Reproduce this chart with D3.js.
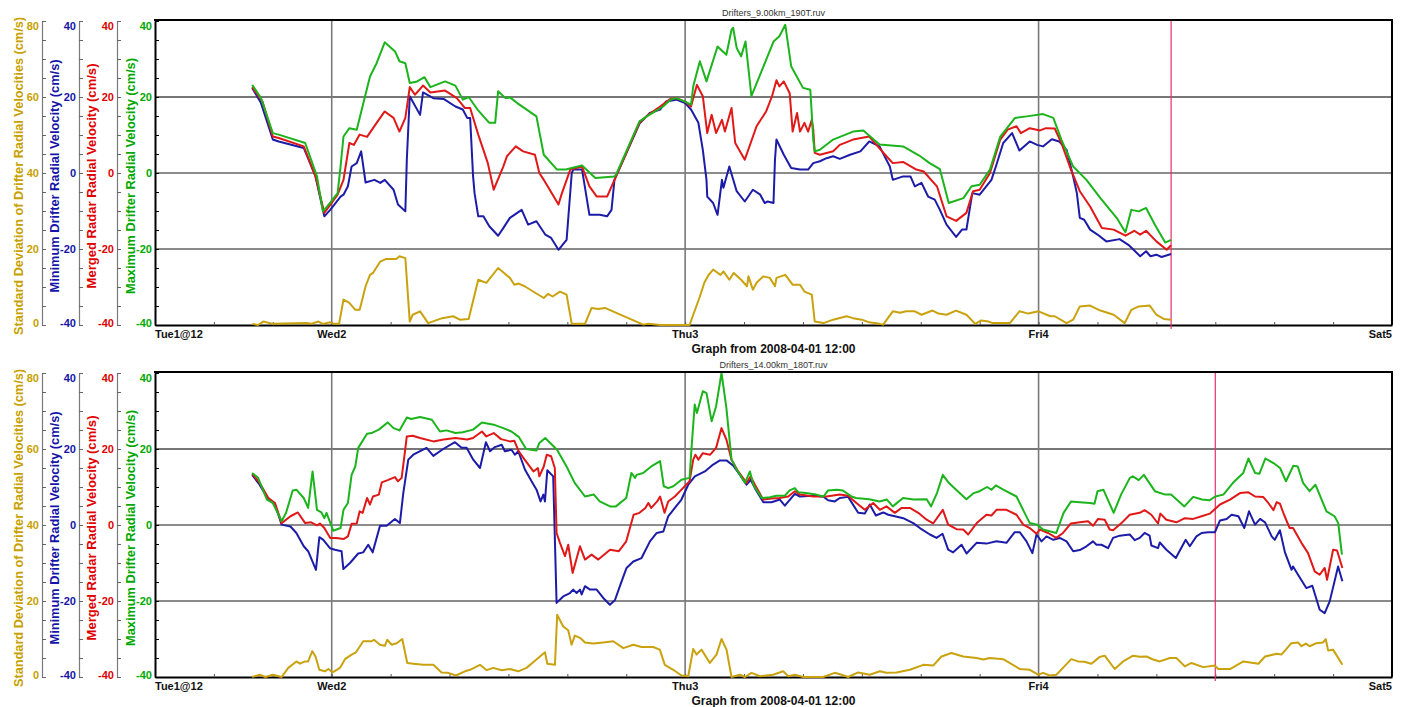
<!DOCTYPE html>
<html>
  <head>
    <meta charset="utf-8">
    <title>Drifter and Radar Radial Velocities</title>
    <script src="https://d3js.org/d3.v7.min.js"></script>
    <style>
      body { margin: 0; background: #fff; }
      svg text { font-family: "Liberation Sans", Arial, Helvetica, sans-serif; }
    </style>
  </head>
  <body>
    <div id="chart"></div>
    <script>
      // all series: [hours after 2008-04-01 12:00, value]
      // top panel: Drifters_9.00km_190T.ruv
      var top_max = [[6.6,23.2],[7.2,19.7],[8.0,10.5],[8.4,10.1],[10.2,7.9],[11.0,-0.9],[11.4,-10.1],[11.7,-8.8],[12.4,-5.3],[12.6,1.7],[12.8,9.6],[13.2,11.8],[13.7,11.4],[14.6,25.4],[15.05,28.9],[15.6,34.4],[16.3,32.0],[16.6,29.4],[17.0,28.9],[17.3,23.7],[17.8,24.1],[18.3,25.2],[18.7,22.6],[19.7,24.1],[20.4,23.0],[20.9,19.3],[21.3,20.0],[21.9,16.7],[22.7,13.2],[23.1,13.2],[23.3,21.5],[23.8,19.7],[24.1,19.9],[24.6,18.4],[25.9,14.9],[26.4,4.8],[27.3,0.9],[27.9,0.9],[28.3,1.3],[29.0,2.0],[29.9,-1.3],[31.2,-0.9],[31.3,-0.5],[32.9,13.6],[33.4,14.9],[34.5,17.5],[35.0,19.3],[35.4,19.7],[36.0,18.8],[36.4,18.0],[36.55,22.8],[37.0,29.4],[37.45,24.1],[38.2,33.3],[38.8,31.1],[39.15,37.7],[39.26,38.2],[39.5,32.9],[39.8,30.7],[40.1,34.6],[40.5,20.2],[41.5,29.8],[42.0,34.6],[42.4,36.0],[42.8,39.0],[43.2,28.1],[44.0,22.4],[44.5,21.9],[44.7,8.8],[44.8,5.7],[45.15,6.1],[46.05,8.8],[47.4,10.9],[48.1,11.2],[49.2,7.5],[50.8,7.0],[51.9,4.6],[52.6,2.6],[53.3,1.0],[53.9,-7.9],[54.9,-6.6],[55.45,-3.5],[56.0,-3.1],[56.7,0.9],[57.4,9.6],[58.4,14.5],[59.2,14.9],[60.3,15.5],[61.0,14.5],[61.55,8.8],[62.35,1.7],[63.25,-1.8],[64.2,-6.6],[65.3,-11.8],[65.9,-15.6],[66.3,-9.7],[66.8,-10.1],[67.3,-9.2],[67.9,-13.6],[68.6,-18.3],[69.0,-17.6]];
      var top_merged = [[6.6,22.6],[7.3,18.8],[8.0,9.6],[8.4,9.2],[10.1,7.0],[10.9,-0.9],[11.5,-10.5],[12.4,-5.7],[12.8,-1.8],[13.2,7.9],[13.5,7.4],[13.9,10.1],[14.4,9.5],[15.05,13.2],[15.6,16.2],[16.2,14.5],[16.6,10.9],[17.0,14.5],[17.3,22.6],[17.65,20.6],[18.2,23.0],[18.7,21.2],[19.7,21.7],[20.5,19.7],[21.05,17.1],[21.4,17.1],[21.95,10.1],[22.3,6.1],[22.6,2.6],[23.0,-4.4],[23.65,1.7],[23.9,4.4],[24.5,7.0],[25.0,5.7],[25.8,4.8],[26.1,0],[26.4,-1.8],[27.4,-8.3],[27.6,-5.7],[28.2,0.9],[29.0,1.7],[29.5,-3.5],[30.0,-6.2],[30.7,-6.2],[31.2,-1.8],[32.9,13.2],[33.5,15.3],[34.3,17.5],[35.0,19.5],[35.4,19.7],[36.0,18.8],[36.4,17.5],[36.8,23.2],[37.2,20.2],[37.5,10.5],[37.8,15.3],[38.1,10.5],[38.5,14.0],[38.7,10.9],[39.15,17.1],[39.4,7.9],[40.05,3.5],[40.85,12.3],[41.5,16.2],[41.9,20.2],[42.2,24.4],[42.4,22.8],[42.7,24.1],[43.1,21.0],[43.3,10.9],[43.6,15.8],[43.8,10.9],[44.1,13.2],[44.35,10.9],[44.6,14.0],[44.7,11.4],[44.8,5.3],[45.15,4.8],[46.05,5.7],[46.5,7.4],[47.4,8.8],[48.5,9.6],[49.2,6.5],[49.67,4.4],[50.1,2.6],[50.8,2.9],[51.7,0.9],[52.2,0.4],[53.1,-3.5],[53.75,-11.4],[54.4,-12.6],[55.1,-10.5],[55.55,-4.8],[56.0,-4.4],[56.7,0],[57.4,8.8],[57.9,11.4],[58.5,12.3],[58.8,10.5],[59.4,11.8],[60.1,11.2],[60.5,11.8],[61.1,11.7],[61.55,7.9],[62.2,0.9],[62.8,-4.8],[63.5,-8.8],[64.3,-14.5],[65.1,-14.9],[65.9,-16.5],[66.5,-15.2],[66.9,-16.2],[67.3,-15.2],[68.0,-18.0],[68.7,-20.2],[69.0,-19.0]];
      var top_min = [[6.6,22.4],[7.2,18.4],[8.0,8.8],[8.4,8.3],[10.1,6.6],[10.9,-0.9],[11.5,-11.4],[11.9,-9.7],[12.6,-6.2],[12.8,-5.7],[13.1,-3.5],[13.35,1.7],[13.7,2.6],[14.0,5.7],[14.3,-2.5],[14.9,-1.8],[15.3,-2.6],[15.6,-1.8],[16.2,-4.4],[16.5,-8.3],[17.0,-10.1],[17.1,3.5],[17.3,20.2],[18.0,15.3],[18.2,21.2],[18.9,19.7],[19.6,19.5],[20.4,17.5],[20.9,16.7],[21.2,14.5],[21.4,14.5],[21.6,-0.9],[21.7,-5.3],[21.95,-11.4],[22.3,-11.4],[22.7,-14.0],[23.3,-16.5],[23.65,-14.5],[24.1,-11.8],[24.9,-9.7],[25.34,-13.6],[25.9,-12.7],[26.5,-16.2],[26.9,-17.1],[27.4,-20.2],[27.95,-17.6],[28.3,0],[28.4,0.9],[29.0,0.9],[29.5,-11.0],[30.2,-11.0],[30.7,-11.4],[31.0,-9.7],[31.2,-1.8],[32.9,13.0],[33.6,15.8],[34.3,16.7],[34.7,18.8],[35.4,19.3],[36.0,18.4],[36.4,16.7],[36.9,13.2],[37.2,6.1],[37.45,-1.8],[37.5,-6.2],[37.9,-7.9],[38.2,-11.0],[38.5,-1.8],[38.6,-3.9],[39.0,1.7],[39.5,-4.8],[40.05,-7.5],[40.6,-4.4],[41.1,-5.7],[41.4,-7.9],[41.6,-7.5],[42.0,-7.9],[42.1,3.5],[42.2,8.8],[42.7,4.8],[43.2,1.3],[43.8,0.9],[44.35,0.9],[44.7,2.6],[45.15,3.1],[45.6,3.9],[46.05,4.4],[46.5,3.7],[47.2,4.8],[47.9,5.7],[48.5,8.3],[49.2,7.0],[49.9,1.7],[50.1,-1.8],[50.8,-0.9],[51.3,-0.9],[51.6,-3.5],[52.05,-2.6],[52.5,-6.2],[52.95,-7.0],[53.3,-9.7],[53.75,-13.6],[54.4,-16.8],[54.8,-14.9],[55.1,-14.9],[55.5,-5.3],[56.0,-5.7],[56.8,-1.8],[57.1,1.7],[57.6,7.9],[58.2,10.5],[58.7,5.9],[59.4,8.3],[59.9,7.4],[60.3,7.0],[60.9,8.9],[61.4,8.3],[61.9,6.1],[62.35,-0.9],[62.6,-5.3],[62.8,-11.8],[63.1,-12.3],[63.5,-14.9],[64.0,-16.2],[64.6,-18.0],[65.5,-17.4],[66.1,-18.9],[66.9,-21.9],[67.3,-20.6],[67.6,-21.9],[68.0,-21.5],[68.35,-22.1],[69.0,-21.3]];
      var top_std = [[6.6,0.3],[7.0,0],[7.35,0.9],[8.0,0.3],[10.3,0.5],[10.6,0.3],[11.1,0.9],[11.4,0.3],[11.9,0.7],[12.1,0.3],[12.5,0.3],[12.8,6.7],[13.2,5.8],[13.6,4.0],[13.9,4.0],[14.3,10.2],[14.6,13.2],[14.8,13.7],[15.3,16.7],[15.7,17.4],[16.4,17.4],[16.6,18.1],[17.0,17.6],[17.3,0.9],[17.5,2.7],[18.0,3.6],[18.55,0.5],[19.5,1.8],[20.25,2.3],[20.7,1.4],[21.3,1.6],[21.95,11.9],[22.5,11.1],[23.3,15.0],[24.1,12.4],[24.4,10.6],[24.7,10.9],[25.1,10.2],[26.4,7.1],[26.7,8.2],[27.0,7.5],[27.5,8.8],[27.95,8.0],[28.3,0.3],[29.2,0.3],[29.65,4.5],[30.1,4.2],[30.55,4.5],[33.15,0.1],[33.5,0.3],[34.3,0],[36.3,0],[37.0,7.5],[37.3,11.1],[37.6,13.2],[37.9,14.6],[38.4,13.2],[38.6,14.1],[39.0,11.9],[39.3,13.7],[39.8,11.9],[40.2,10.2],[40.3,12.8],[40.6,9.3],[40.85,11.1],[41.3,12.8],[41.75,12.4],[42.1,10.2],[42.2,12.4],[42.8,13.2],[43.3,10.6],[43.8,10.6],[44.1,8.8],[44.6,8.0],[44.8,0.9],[45.4,0.5],[46.05,1.4],[46.96,2.3],[47.4,1.8],[48.0,1.4],[48.5,0.7],[49.2,0.3],[49.45,0.1],[50.1,3.6],[50.6,3.2],[51.0,3.6],[51.6,3.6],[52.05,2.7],[52.8,3.8],[53.2,3.0],[53.75,2.7],[54.4,3.8],[55.1,2.7],[55.7,0.3],[56.1,1.2],[56.6,0.9],[56.9,0.5],[58.05,0.5],[58.7,3.6],[59.3,3.0],[60.0,3.6],[60.8,2.3],[61.1,2.3],[61.9,0.5],[62.35,1.4],[62.8,4.9],[63.5,5.1],[64.2,3.8],[65.1,2.7],[65.85,0.5],[66.3,4.0],[66.8,4.9],[67.55,5.1],[68.0,2.7],[68.5,1.6],[69.0,1.4]];

      // bottom panel: Drifters_14.00km_180T.ruv
      var bot_max = [[6.6,13.7],[7.0,12.4],[7.6,6.7],[8.0,5.8],[8.6,1.0],[8.9,3.2],[9.35,9.1],[9.6,9.3],[10.1,7.1],[10.4,4.5],[10.7,14.1],[11.0,4.0],[11.3,3.3],[11.5,1.8],[11.65,3.2],[12.1,-1.5],[12.6,-0.8],[12.8,4.0],[13.1,5.8],[13.35,13.2],[13.6,15.4],[13.8,20.3],[14.4,24.0],[14.7,24.2],[15.2,25.1],[15.8,27.0],[16.2,25.5],[16.6,24.9],[17.1,28.3],[17.4,27.9],[18.0,28.4],[18.8,27.7],[19.35,24.6],[19.8,24.9],[20.4,24.2],[20.9,24.4],[21.6,25.1],[22.2,27.0],[23.0,26.4],[23.65,25.5],[24.2,24.6],[24.7,23.2],[25.2,20.0],[25.9,19.6],[26.1,21.6],[26.5,22.9],[27.3,19.8],[27.95,15.4],[28.5,11.1],[29.2,7.5],[29.8,8.0],[30.2,6.2],[30.9,4.9],[31.3,4.9],[32.0,7.1],[32.35,13.7],[32.6,12.4],[32.7,13.2],[33.15,13.7],[33.7,15.4],[34.3,16.8],[34.55,10.2],[34.85,9.7],[35.2,10.2],[35.75,11.9],[36.3,12.4],[36.45,21.1],[36.65,31.7],[36.8,29.5],[37.2,35.2],[37.45,34.7],[37.8,27.3],[38.1,31.2],[38.47,40.0],[38.8,30.8],[39.15,17.2],[39.5,14.6],[40.06,11.1],[40.4,14.1],[40.63,10.6],[41.2,7.1],[41.76,7.3],[42.2,7.7],[42.77,7.7],[43.1,9.1],[43.45,9.7],[43.7,8.6],[44.2,8.4],[44.9,8.0],[45.4,7.5],[45.7,9.1],[46.3,9.3],[46.7,9.1],[47.3,7.5],[47.6,7.1],[48.5,6.8],[49.2,6.2],[49.7,6.7],[50.1,4.9],[50.8,7.1],[51.5,6.7],[52.4,6.8],[52.7,4.9],[53.1,8.4],[53.5,13.2],[53.9,11.1],[54.4,9.3],[55.1,6.8],[55.6,8.4],[56.0,8.9],[56.5,10.0],[56.8,9.3],[57.1,10.4],[57.6,9.3],[58.5,7.5],[59.0,3.6],[59.4,0.5],[59.9,0.1],[60.3,-1.2],[61.2,-2.1],[61.7,3.2],[62.2,6.2],[62.8,6.0],[63.5,5.8],[63.8,5.6],[64.0,8.9],[64.4,9.3],[65.1,3.2],[65.6,8.0],[66.2,12.4],[66.4,12.8],[66.8,11.8],[67.15,13.2],[67.9,8.9],[68.6,8.0],[69.0,8.0],[69.9,4.9],[70.5,7.4],[71.1,6.7],[71.6,6.5],[72.0,7.5],[72.55,8.0],[73.2,11.1],[73.9,13.7],[74.25,17.5],[74.7,13.7],[75.0,13.5],[75.4,17.5],[75.95,16.3],[76.4,15.0],[76.8,11.5],[77.3,15.6],[77.6,15.4],[77.96,11.1],[78.4,8.9],[78.8,10.6],[79.55,3.6],[80.1,2.3],[80.35,0.5],[80.6,-7.8]];
      var bot_merged = [[6.6,13.5],[7.1,11.1],[7.7,7.1],[8.15,5.8],[8.6,0.5],[9.2,2.3],[9.7,3.3],[10.2,0.5],[10.6,0.7],[11.0,-0.1],[11.2,0.4],[11.5,-0.8],[11.9,-3.4],[12.3,-3.4],[12.8,-3.7],[13.1,-3.0],[13.35,0.3],[13.7,0.4],[13.9,3.6],[14.1,3.2],[14.4,7.1],[14.6,5.4],[14.8,7.5],[15.2,8.0],[15.4,11.2],[15.8,11.8],[16.3,12.6],[16.5,11.5],[16.75,12.4],[17.1,23.3],[17.5,23.5],[18.0,22.9],[18.9,22.0],[19.6,22.5],[20.4,22.9],[21.2,22.5],[21.6,22.9],[22.2,24.6],[22.5,23.3],[23.0,24.2],[23.5,22.6],[24.1,22.0],[24.4,22.2],[24.7,19.4],[25.1,17.2],[25.7,14.1],[26.0,15.0],[26.1,12.8],[26.4,15.4],[26.6,18.5],[26.9,18.1],[27.15,15.0],[27.27,-2.1],[27.5,-4.7],[27.84,-8.2],[28.06,-5.2],[28.36,-12.6],[28.86,-5.6],[29.2,-9.1],[29.65,-7.8],[30.1,-9.1],[30.9,-6.5],[31.5,-6.9],[32.0,-4.3],[32.5,2.7],[32.9,3.2],[33.3,4.5],[33.5,5.8],[33.7,4.5],[34.1,6.2],[34.3,7.5],[34.6,3.2],[34.85,6.2],[35.3,7.5],[35.75,9.3],[36.3,11.5],[36.55,17.2],[36.7,18.5],[36.9,17.2],[37.2,18.9],[37.7,18.5],[38.1,20.3],[38.47,25.5],[38.8,22.5],[39.15,17.2],[39.6,14.1],[40.17,11.1],[40.45,12.8],[40.74,10.6],[41.3,6.7],[41.87,7.0],[42.4,7.1],[43.0,7.5],[43.45,8.9],[43.8,8.0],[44.7,7.5],[45.6,7.5],[46.5,8.0],[47.07,7.7],[47.63,5.8],[48.2,4.0],[48.77,5.8],[49.22,4.0],[49.67,4.9],[50.24,3.2],[50.7,4.5],[51.26,4.5],[51.83,3.2],[52.4,1.4],[52.84,0.4],[53.5,4.0],[53.86,0.1],[54.43,-1.1],[54.88,-1.2],[55.22,-2.5],[55.8,0.5],[56.46,2.7],[56.8,2.5],[57.14,4.0],[57.82,4.0],[58.5,2.7],[58.96,0.1],[59.4,-0.8],[59.86,-2.3],[60.08,-1.2],[60.65,-2.1],[61.2,-3.4],[61.66,-2.1],[62.2,0.4],[62.8,0.7],[63.36,1.0],[63.7,-0.2],[64.04,1.6],[64.49,1.4],[64.83,-1.2],[65.06,-1.4],[65.63,0.5],[66.19,2.7],[66.87,3.2],[67.2,3.9],[67.66,2.7],[68.11,0.4],[68.27,3.0],[68.68,1.4],[69.36,0.7],[69.93,1.8],[70.5,1.6],[71.07,2.3],[71.64,3.0],[72.32,5.4],[73.0,6.7],[73.68,8.4],[74.25,8.6],[74.7,7.5],[75.25,7.4],[75.6,5.8],[75.95,3.9],[76.17,6.0],[76.39,5.6],[76.67,2.7],[77.05,-0.8],[77.28,-0.8],[77.85,-4.7],[78.3,-7.4],[78.75,-12.2],[79.09,-13.1],[79.43,-11.3],[79.59,-14.4],[80.0,-6.5],[80.27,-6.7],[80.63,-11.3]];
      var bot_min = [[6.6,13.2],[7.1,10.6],[7.7,6.7],[8.15,5.4],[8.6,0.1],[9.2,-0.4],[9.6,-2.1],[10.1,-5.6],[10.4,-6.9],[10.93,-11.8],[11.16,-3.2],[11.43,-3.9],[11.88,-6.1],[12.22,-6.5],[12.67,-6.9],[12.79,-11.6],[13.24,-10.0],[13.8,-7.5],[14.14,-7.2],[14.48,-5.2],[14.78,-7.2],[15.28,-0.2],[15.73,-0.2],[16.29,1.6],[16.63,0.5],[16.86,8.4],[17.2,17.2],[17.54,18.5],[18.44,20.3],[18.9,18.2],[19.57,20.0],[20.37,21.8],[20.82,20.3],[21.16,20.3],[21.61,17.2],[22.07,15.0],[22.47,21.8],[22.75,19.4],[23.08,20.5],[23.54,21.1],[23.76,19.4],[24.21,19.8],[24.44,18.5],[24.67,19.4],[25.12,14.6],[25.57,11.5],[25.91,9.3],[26.18,6.2],[26.37,8.0],[26.48,6.2],[26.64,14.4],[27.04,12.8],[27.27,-20.5],[27.72,-18.8],[28.18,-17.9],[28.4,-17.0],[28.63,-17.9],[28.86,-17.0],[28.97,-18.3],[29.2,-16.1],[29.54,-17.0],[29.99,-17.0],[30.44,-19.2],[30.89,-21.0],[31.23,-19.8],[31.57,-16.1],[32.02,-11.3],[32.48,-9.6],[33.04,-8.7],[33.61,-4.3],[34.07,-2.1],[34.52,-1.7],[34.85,2.3],[35.3,4.5],[35.75,6.7],[36.21,10.6],[36.66,12.8],[37.34,14.1],[37.9,15.9],[38.36,17.0],[38.81,17.0],[39.27,15.6],[39.72,13.2],[40.17,10.6],[40.45,11.9],[40.74,9.7],[41.31,6.0],[41.87,6.0],[42.43,6.7],[42.77,5.1],[43.45,8.2],[43.79,7.5],[44.7,7.7],[45.37,7.5],[45.71,6.5],[46.16,6.2],[46.5,7.1],[47.07,7.4],[47.75,3.2],[48.2,3.0],[48.54,5.4],[48.95,2.5],[49.45,3.3],[49.79,2.7],[50.24,2.3],[50.81,1.8],[51.49,0.5],[51.94,-0.8],[52.62,-2.5],[53.07,-3.4],[53.48,-2.3],[53.86,-6.5],[54.2,-7.2],[54.77,-5.2],[55.11,-7.5],[55.79,-4.7],[56.46,-4.9],[57.14,-4.3],[57.82,-4.7],[58.38,-1.9],[58.72,-1.9],[59.18,-4.3],[59.58,-7.4],[59.86,-2.5],[60.2,-4.3],[60.54,-3.0],[61.0,-3.9],[61.44,-3.4],[61.9,-4.3],[62.35,-6.9],[62.8,-6.6],[63.25,-5.6],[63.7,-4.3],[63.93,-5.2],[64.27,-5.2],[64.72,-6.1],[65.06,-3.4],[65.51,-2.8],[66.19,-2.5],[66.53,-4.0],[66.87,-3.4],[67.2,-2.1],[67.54,-2.8],[67.66,-5.4],[68.11,-6.1],[68.23,-4.6],[68.68,-6.5],[69.32,-8.7],[69.99,-3.9],[70.27,-5.6],[70.72,-3.0],[71.07,-2.1],[71.52,-1.9],[71.98,-1.9],[72.32,1.2],[72.77,1.6],[73.11,2.7],[73.57,2.3],[73.97,-0.8],[74.29,3.6],[74.7,0.1],[75.04,1.6],[75.38,0.7],[75.83,-3.0],[76.04,-3.9],[76.39,-1.4],[76.73,-7.2],[77.18,-11.8],[77.28,-10.9],[77.62,-13.1],[78.18,-16.6],[78.59,-16.0],[79.09,-22.3],[79.43,-23.2],[79.77,-20.1],[80.34,-10.9],[80.63,-14.8]];
      var bot_std = [[6.6,0],[7.1,0.6],[7.5,0],[8.0,0.6],[8.6,0],[9.05,2.4],[9.6,4.1],[9.84,3.5],[10.2,4.1],[10.4,4.1],[10.68,6.8],[10.9,5.4],[11.16,1.9],[11.54,1.5],[11.77,2.1],[12.06,1.2],[12.56,2.4],[12.9,4.7],[13.35,5.9],[13.65,6.5],[14.14,9.4],[14.71,9.4],[14.87,9.8],[15.28,8.5],[15.61,8.2],[15.77,9.8],[16.07,8.5],[16.41,8.9],[16.79,10.0],[17.13,3.7],[17.54,3.5],[18.22,3.2],[18.9,3.2],[19.46,1.2],[19.91,1.1],[20.43,0.4],[21.05,1.5],[21.39,1.9],[22.07,3.2],[22.52,1.8],[22.97,2.4],[23.54,1.8],[24.1,2.1],[24.67,1.5],[25.23,2.4],[25.68,3.9],[26.14,5.4],[26.48,6.5],[26.64,3.5],[27.16,3.2],[27.31,16.4],[27.72,13.3],[28.06,12.3],[28.29,8.5],[28.51,10.9],[28.86,10.3],[29.2,9.1],[29.76,8.8],[30.44,9.1],[31.12,9.4],[31.8,7.6],[32.48,8.5],[33.04,7.9],[33.83,7.9],[34.28,7.2],[34.62,3.2],[35.19,1.9],[35.75,0.4],[36.21,0.2],[36.55,7.4],[36.77,5.9],[37.11,7.2],[37.68,3.7],[38.13,5.9],[38.47,10.0],[38.81,7.2],[39.15,0],[39.72,0.6],[40.06,0],[40.51,1.1],[41.08,0.2],[41.97,0.6],[42.66,1.5],[43.0,0.2],[43.45,0.6],[44.02,0],[45.37,0],[46.16,1.1],[46.62,0.6],[47.07,0],[47.75,1.2],[48.54,0.6],[49.22,1.5],[49.67,1.1],[50.35,1.2],[51.26,1.9],[52.17,3.2],[52.84,3.0],[53.41,5.4],[54.08,6.3],[54.88,5.4],[55.79,5.0],[56.24,4.6],[56.69,5.0],[57.6,4.7],[58.73,2.1],[59.41,1.9],[59.97,0.6],[60.31,1.1],[60.76,0.4],[61.21,0.6],[61.66,2.4],[62.22,4.7],[62.68,4.1],[63.1,4.0],[63.59,3.5],[64.16,5.3],[64.49,5.6],[65.17,2.1],[65.74,4.1],[66.42,5.6],[66.87,5.3],[67.33,5.4],[67.78,4.6],[68.23,4.1],[68.91,5.0],[69.36,5.0],[69.93,2.8],[70.38,3.7],[71.18,2.6],[71.98,3.0],[72.2,2.1],[73.0,2.1],[73.91,4.1],[74.93,3.5],[75.38,5.4],[76.17,6.1],[76.49,5.9],[77.17,8.9],[77.62,9.1],[77.85,8.1],[78.15,8.8],[78.41,8.1],[78.86,8.9],[79.32,9.1],[79.5,10.0],[79.66,7.0],[80.0,7.2],[80.63,3.2]];

      var panelTitles = ["Drifters_9.00km_190T.ruv", "Drifters_14.00km_180T.ruv"];
      var markerHours = [69.0, 72.0];   // red "now" line in each panel
      var dayLabels = ["Tue1@12", "Wed2", "Thu3", "Fri4", "Sat5"];
      var gridValues = [20, 0, -20];
      var xTitle = "Graph from 2008-04-01 12:00";

      var panels = [
        {title: panelTitles[0], marker: markerHours[0], std: top_std, min: top_min, merged: top_merged, max: top_max},
        {title: panelTitles[1], marker: markerHours[1], std: bot_std, min: bot_min, merged: bot_merged, max: bot_max}
      ];

      // the four y axes, left to right
      var axes = [
        {key: "std", label: "Standard Deviation of Drifter Radial Velocities (cm/s)", color: "#c8a000", line: "#c9a20e", ax: 42, tx: 19, len: 318, domain: [0, 80]},
        {key: "min", label: "Minimum Drifter Radial Velocity (cm/s)", color: "#1414a8", line: "#1c1ca8", ax: 79, tx: 55, len: 233, domain: [-40, 40]},
        {key: "merged", label: "Merged Radar Radial Velocity (cm/s)", color: "#e00000", line: "#e01818", ax: 117, tx: 92, len: 225, domain: [-40, 40]},
        {key: "max", label: "Maximum Drifter Radial Velocity (cm/s)", color: "#00a800", line: "#1cb41c", ax: 155, tx: 131, len: 236, domain: [-40, 40]}
      ];

      var W = 1413, H = 707, xl = 155, xr = 1392;
      var start = new Date(2008, 3, 1, 12), end = new Date(2008, 3, 5, 0);
      function t(h) { return new Date(start.getTime() + h * 3600000); }

      var svg = d3.select("#chart").append("svg")
        .attr("width", W)
        .attr("height", H);

      var x = d3.scaleTime().domain([start, end]).range([xl, xr]);
      var days = [start].concat(d3.timeDay.range(d3.timeDay.ceil(start), d3.timeDay.offset(end, 1)));

      panels.forEach(function(p, i) {
        var top = 21 + i * 352, bot = top + 304;
        var g = svg.append("g");
        var yV = d3.scaleLinear().domain([-40, 40]).range([bot, top]);
        var yS = d3.scaleLinear().domain([0, 80]).range([bot, top]);

        // horizontal grid
        g.selectAll(".hgrid").data(gridValues).join("line")
          .attr("x1", xl).attr("x2", xr)
          .attr("y1", function(d) { return yV(d); })
          .attr("y2", function(d) { return yV(d); })
          .attr("stroke", function(d) { return d < 0 ? "#8a8a8a" : d > 0 ? "#4a4a4a" : "#1a1a1a"; })
          .attr("stroke-width", function(d) { return d < 0 ? 2 : d > 0 ? 1.5 : 1; });

        // day lines
        g.selectAll(".vgrid").data(days.slice(1, -1)).join("line")
          .attr("x1", function(d) { return x(d); })
          .attr("x2", function(d) { return x(d); })
          .attr("y1", top).attr("y2", bot)
          .attr("stroke", "#7a7a7a")
          .attr("stroke-width", 1.6);

        // bottom axis with 4 hour ticks
        var xa = g.append("g")
          .attr("transform", "translate(0," + bot + ")")
          .call(d3.axisBottom(x).ticks(d3.timeHour.every(4)).tickSize(-3).tickSizeOuter(0).tickFormat(""));
        xa.select(".domain").attr("stroke", "#000").attr("stroke-width", 2);
        xa.selectAll(".tick line").attr("stroke", "#555");

        // marker line
        g.append("line")
          .attr("x1", x(t(p.marker))).attr("x2", x(t(p.marker)))
          .attr("y1", top - 1).attr("y2", bot + 4)
          .attr("stroke", "#e4306c")
          .attr("stroke-width", 1.2);

        // series
        axes.forEach(function(a) {
          var y = a.key === "std" ? yS : yV;
          var line = d3.line()
            .x(function(d) { return x(t(d[0])); })
            .y(function(d) { return y(d[1]); });
          g.append("path")
            .datum(p[a.key])
            .attr("d", line)
            .attr("fill", "none")
            .attr("stroke", a.line)
            .attr("stroke-width", 2)
            .attr("stroke-linejoin", "round");
        });

        // frame top and right
        g.append("line").attr("x1", xl - 1).attr("x2", xr + 1).attr("y1", top - 1).attr("y2", top - 1)
          .attr("stroke", "#000").attr("stroke-width", 2);
        g.append("line").attr("x1", xr).attr("x2", xr).attr("y1", top - 1).attr("y2", bot)
          .attr("stroke", "#000").attr("stroke-width", 2);

        // y axes
        axes.forEach(function(a) {
          var y = a.key === "std" ? yS : yV;
          var lo = a.domain[0], hi = a.domain[1];
          var ag = g.append("g")
            .attr("transform", "translate(" + a.ax + ",0)")
            .call(d3.axisLeft(y)
              .tickValues(d3.range(lo, hi + 1, 5))
              .tickSize(-4)
              .tickSizeOuter(0)
              .tickPadding(3)
              .tickFormat(function(d) { return (d - lo) % 20 === 0 ? d : ""; }));
          var main = a.key === "max";
          ag.select(".domain").attr("stroke", main ? "#000" : "#7a7a7a").attr("stroke-width", main ? 2 : 1.2);
          ag.selectAll(".tick line").attr("stroke", main ? "#000" : "#666");
          ag.selectAll(".tick text")
            .attr("fill", a.color)
            .style("font-size", "11px")
            .style("font-weight", "bold")
            .attr("dy", function(d) { return d === hi ? "0.75em" : d === lo ? "0.1em" : "0.32em"; });

          g.append("text")
            .attr("transform", "translate(" + a.tx + "," + ((top + bot) / 2 + 3) + ") rotate(-90)")
            .attr("text-anchor", "middle")
            .attr("dominant-baseline", "central")
            .attr("textLength", a.len)
            .attr("lengthAdjust", "spacingAndGlyphs")
            .attr("fill", a.color)
            .style("font-size", "12px")
            .style("font-weight", "bold")
            .text(a.label);
        });

        // day labels
        g.selectAll(".day").data(days).join("text")
          .attr("x", function(d) { return x(d); })
          .attr("y", bot + 13)
          .attr("text-anchor", function(d, j) { return j === 0 ? "start" : j === days.length - 1 ? "end" : "middle"; })
          .style("font-size", "11px")
          .style("font-weight", "bold")
          .attr("fill", "#111")
          .text(function(d, j) { return dayLabels[j]; });

        g.append("text")
          .attr("x", (xl + xr) / 2)
          .attr("y", bot + 28)
          .attr("text-anchor", "middle")
          .style("font-size", "12px")
          .style("font-weight", "bold")
          .attr("fill", "#111")
          .text(xTitle);

        g.append("text")
          .attr("x", (xl + xr) / 2)
          .attr("y", top - 5)
          .attr("text-anchor", "middle")
          .style("font-size", "9px")
          .attr("fill", "#333")
          .text(p.title);
      });
    </script>
  </body>
</html>
